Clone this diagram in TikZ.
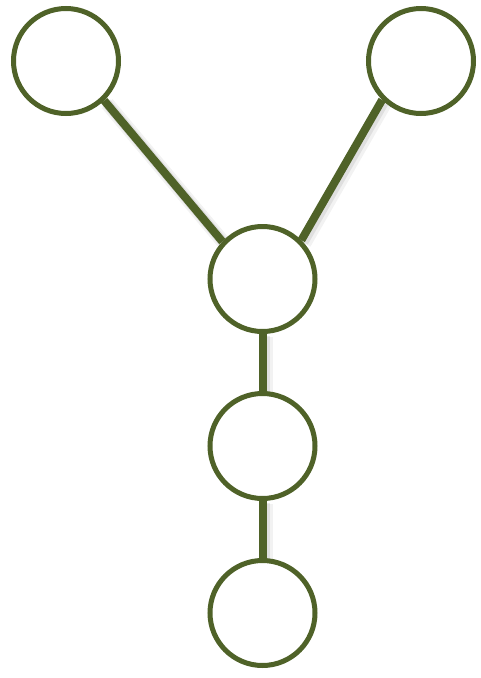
\documentclass[tikz,border=0pt]{standalone}
\usetikzlibrary{calc,backgrounds}
\definecolor{olive}{HTML}{4F6228}
\tikzset{
  circ/.style={circle, draw=olive, line width=5pt, fill=white, minimum size=105pt, inner sep=0pt},
  link/.style={draw=olive, line width=8pt},
  shade1/.style={draw=black, opacity=0.05, line width=14pt},
  shade2/.style={draw=black, opacity=0.08, line width=10pt}
}
\begin{document}
\begin{tikzpicture}[x=1pt,y=-1pt]
\useasboundingbox (0,0) rectangle (481,678);
\node[circ] (a) at (66,61) {};
\node[circ] (b) at (421,61) {};
\node[circ] (c) at (262.5,279) {};
\node[circ] (d) at (262.5,446) {};
\node[circ] (e) at (262.5,613) {};
\begin{scope}[on background layer]
  % shadows
  \foreach \u/\v in {a.-46/c.137,b.-135/c.45,c.south/d.north,d.south/e.north}{
    \draw[shade1] ($(\u)+(3,3)$) -- ($(\v)+(3,3)$);
    \draw[shade2] ($(\u)+(2,2)$) -- ($(\v)+(2,2)$);
  }
  % links
  \draw[link] (a.-46) -- (c.137);
  \draw[link] (b.-135) -- (c.45);
  \draw[link] (c.south) -- (d.north);
  \draw[link] (d.south) -- (e.north);
\end{scope}
\end{tikzpicture}
\end{document}
